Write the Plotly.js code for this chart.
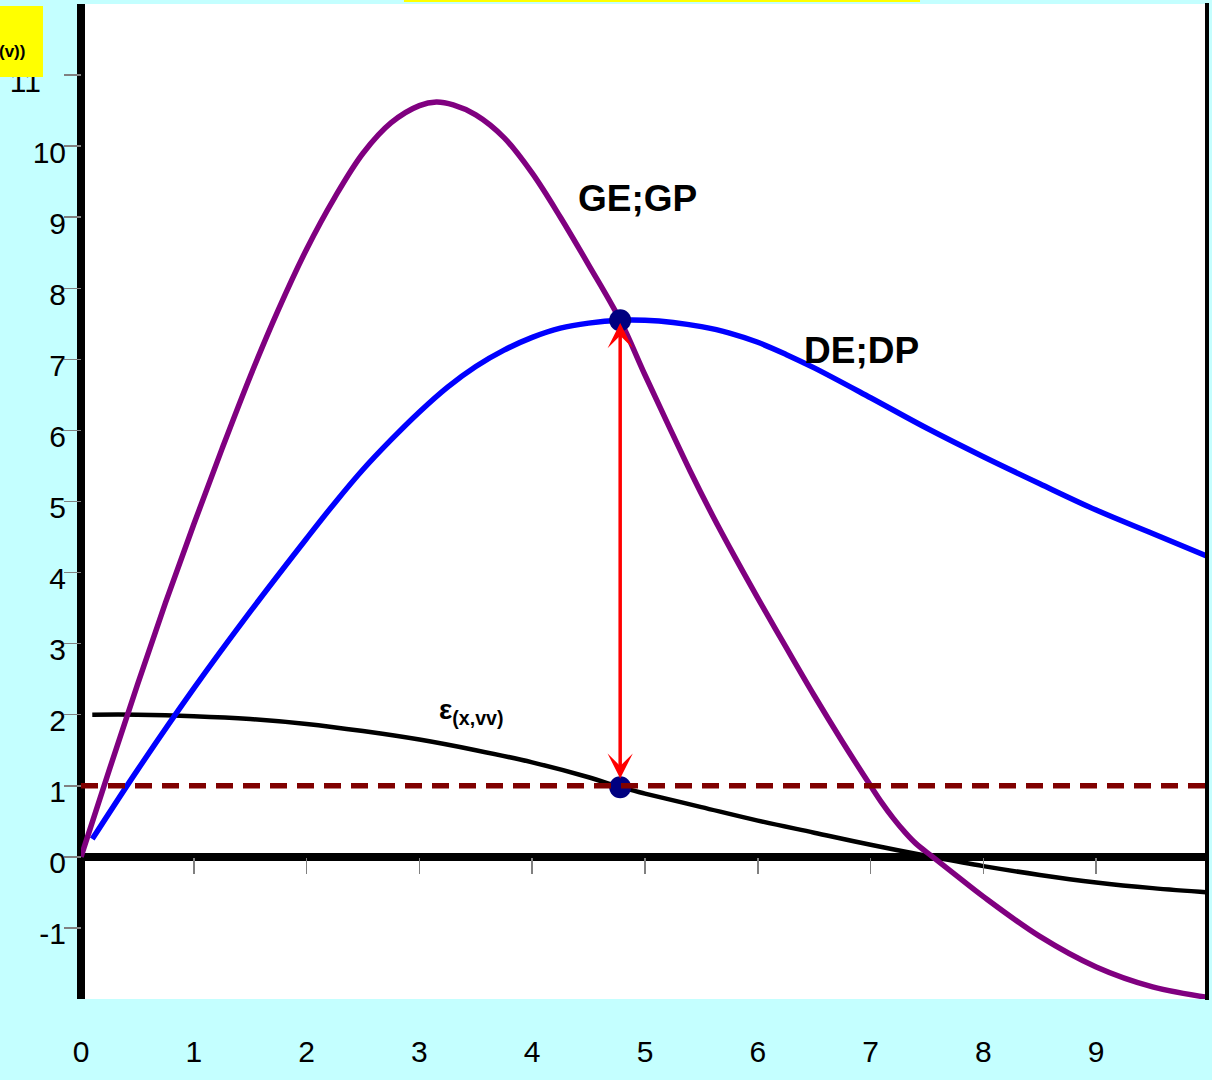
<!DOCTYPE html>
<html>
<head>
<meta charset="utf-8">
<script src="https://cdn.plot.ly/plotly-3.0.1.min.js"></script>
<style>
  html, body { margin: 0; padding: 0; background: #C4FFFF; }
  #chart { width: 1212px; height: 1080px; }
</style>
</head>
<body>
<div id="chart"></div>
<script>
// GE;GP curve
const geX = [0, 0.25, 0.5, 0.75, 1.0, 1.25, 1.5, 1.75, 2.0, 2.25, 2.5, 2.75, 3.0, 3.15, 3.3, 3.5, 3.75, 4.0, 4.25, 4.5, 4.78, 5.0, 5.2, 5.4, 5.6, 5.8, 6.0, 6.25, 6.5, 6.75, 7.0, 7.1, 7.2, 7.3, 7.4, 7.55, 7.75, 8.0, 8.5, 9.0, 9.5, 10];
const geY = [0, 1.22, 2.42, 3.58, 4.68, 5.74, 6.76, 7.7, 8.55, 9.28, 9.9, 10.33, 10.57, 10.62, 10.58, 10.44, 10.12, 9.62, 9.0, 8.33, 7.55, 6.78, 6.1, 5.43, 4.8, 4.21, 3.64, 2.95, 2.27, 1.62, 1.0, 0.76, 0.545, 0.355, 0.19, 0.0, -0.25, -0.56, -1.12, -1.55, -1.83, -1.98];

// DE;DP curve
const deX = [0.1, 0.5, 1.0, 1.5, 2.0, 2.25, 2.5, 2.75, 3.0, 3.25, 3.5, 3.75, 4.0, 4.25, 4.5, 4.78, 5.0, 5.25, 5.5, 5.75, 6.0, 6.25, 6.5, 7.0, 7.5, 8.0, 8.5, 9.0, 9.5, 10];
const deY = [0.25, 1.22, 2.37, 3.45, 4.48, 4.98, 5.45, 5.87, 6.26, 6.61, 6.9, 7.13, 7.31, 7.44, 7.51, 7.55, 7.55, 7.52, 7.46, 7.37, 7.24, 7.07, 6.88, 6.46, 6.03, 5.63, 5.25, 4.88, 4.55, 4.22];

// elasticity curve ε(x,vv)
const epsX = [0.1, 0.5, 1.0, 1.5, 2.0, 2.5, 3.0, 3.5, 4.0, 4.5, 4.78, 5.0, 5.5, 6.0, 6.5, 7.0, 7.55, 8.0, 8.5, 9.0, 9.5, 10];
const epsY = [2.0, 2.0, 1.98, 1.94, 1.87, 1.77, 1.65, 1.5, 1.33, 1.12, 0.98, 0.89, 0.7, 0.51, 0.34, 0.17, 0.0, -0.13, -0.255, -0.36, -0.44, -0.5];

// unit-elasticity reference level
const unitX = [0, 10];
const unitY = [1, 1];

// equilibrium points
const eqX = [4.78, 4.78];
const eqY = [7.55, 0.98];

// vertical arrow between the two points
const arrowX = 4.78;
const arrowTop = 7.51;
const arrowBottom = 1.08;

// axis ticks
const xTicks = [0, 1, 2, 3, 4, 5, 6, 7, 8, 9];
const xInnerTicks = [1, 2, 3, 4, 5, 6, 7, 8, 9];
const yTicks = [-1, 0, 1, 2, 3, 4, 5, 6, 7, 8, 9, 10, 11];
const yTickText = ['-1', '0', '1', '2', '3', '4', '5', '6', '7', '8', '9', '10', '11\u00a0\u00a0\u00a0'];

// labels
const labelGE = 'GE;GP';
const labelDE = 'DE;DP';
const labelEps = 'ε<sub>(x,vv)</sub>';
const labelCorner = '(v))';

const FONT = 'Liberation Sans, Arial, sans-serif';

const traces = [
  {
    x: unitX, y: unitY, xaxis: 'x2', yaxis: 'y2',
    mode: 'lines', line: { color: '#800000', width: 5.5, dash: '17px,10px' },
    hoverinfo: 'skip', showlegend: false
  },
  {
    x: epsX, y: epsY, mode: 'lines',
    line: { color: '#000000', width: 4.5, shape: 'spline', smoothing: 1 },
    showlegend: false
  },
  {
    x: deX, y: deY, mode: 'lines',
    line: { color: '#0000FF', width: 5.5, shape: 'spline', smoothing: 1 },
    showlegend: false
  },
  {
    x: geX, y: geY, mode: 'lines',
    line: { color: '#800080', width: 5.5, shape: 'spline', smoothing: 1 },
    showlegend: false
  },
  {
    x: eqX, y: eqY, mode: 'markers',
    marker: { color: '#000080', size: 22 },
    showlegend: false
  }
];

const layout = {
  width: 1212,
  height: 1080,
  margin: { l: 81, r: 3, t: 4, b: 81, pad: 0 },
  paper_bgcolor: '#C4FFFF',
  plot_bgcolor: '#FFFFFF',
  showlegend: false,
  font: { family: FONT, color: '#000000' },
  xaxis: {
    range: [0, 10],
    fixedrange: true,
    showgrid: false,
    showline: false,
    zeroline: true,
    zerolinecolor: '#000000',
    zerolinewidth: 8,
    tickvals: xTicks,
    ticktext: xTicks.map(String),
    ticks: 'outside',
    ticklen: 26,
    tickcolor: 'rgba(0,0,0,0)',
    tickfont: { family: FONT, size: 30, color: '#000000' }
  },
  xaxis2: {
    overlaying: 'x',
    anchor: 'free',
    position: 2 / 14,
    side: 'bottom',
    range: [0, 10],
    fixedrange: true,
    showgrid: false,
    showline: false,
    zeroline: false,
    tickvals: xInnerTicks,
    ticks: 'outside',
    ticklen: 16,
    tickwidth: 1.5,
    tickcolor: '#808080',
    showticklabels: false
  },
  yaxis: {
    range: [-2, 12],
    fixedrange: true,
    showgrid: false,
    showline: false,
    zeroline: true,
    zerolinecolor: '#000000',
    zerolinewidth: 8,
    tickvals: yTicks,
    ticktext: yTickText,
    ticks: 'outside',
    ticklen: 8,
    tickcolor: 'rgba(0,0,0,0)',
    ticklabelshift: 6,
    tickfont: { family: FONT, size: 30, color: '#000000' }
  },
  yaxis2: {
    overlaying: 'y',
    anchor: 'free',
    position: 0,
    side: 'left',
    range: [-2, 12],
    fixedrange: true,
    showgrid: false,
    showline: false,
    zeroline: false,
    tickvals: yTicks,
    ticks: 'outside',
    ticklen: 17,
    tickwidth: 1.5,
    tickcolor: '#808080',
    showticklabels: false
  },
  shapes: [
    // right-hand frame line
    {
      type: 'line', xref: 'x', yref: 'paper',
      x0: 10, x1: 10, y0: -0.001, y1: 1.001,
      line: { color: '#000000', width: 8 }
    },
    // yellow title strip along the top edge
    {
      type: 'rect', xref: 'paper', yref: 'paper',
      x0: 0.2863, x1: 0.7438, y0: 1.002, y1: 1.02,
      fillcolor: '#FFFF00', line: { width: 0 }
    },
    // yellow axis-title box in the top-left corner
    {
      type: 'rect', xref: 'paper', yref: 'paper',
      x0: -0.09, x1: -0.0337, y0: 0.9266, y1: 0.998,
      fillcolor: '#FFFF00', line: { width: 0 }
    }
  ],
  annotations: [
    {
      x: arrowX, y: arrowTop, ax: arrowX, ay: arrowBottom,
      xref: 'x', yref: 'y', axref: 'x', ayref: 'y',
      text: '', showarrow: true,
      arrowside: 'end+start',
      arrowhead: 3, startarrowhead: 3,
      arrowsize: 1.2, startarrowsize: 1.2,
      arrowwidth: 3.5, arrowcolor: '#FF0000',
      standoff: 0, startstandoff: 0
    },
    {
      x: 4.93, y: 9.26, xref: 'x', yref: 'y',
      text: labelGE, showarrow: false,
      font: { family: FONT, size: 37, weight: 'bold', color: '#000000' }
    },
    {
      x: 6.92, y: 7.12, xref: 'x', yref: 'y',
      text: labelDE, showarrow: false,
      font: { family: FONT, size: 37, weight: 'bold', color: '#000000' }
    },
    {
      x: 3.46, y: 2.04, xref: 'x', yref: 'y',
      text: labelEps, showarrow: false,
      font: { family: FONT, size: 28, weight: 'bold', color: '#000000' }
    },
    {
      x: -0.0479, y: 0.9518, xref: 'paper', yref: 'paper',
      xanchor: 'right', yanchor: 'middle',
      text: labelCorner, showarrow: false,
      font: { family: FONT, size: 17, weight: 'bold', color: '#000000' }
    }
  ]
};

Plotly.newPlot('chart', traces, layout, { displayModeBar: false, staticPlot: true });
</script>
</body>
</html>
